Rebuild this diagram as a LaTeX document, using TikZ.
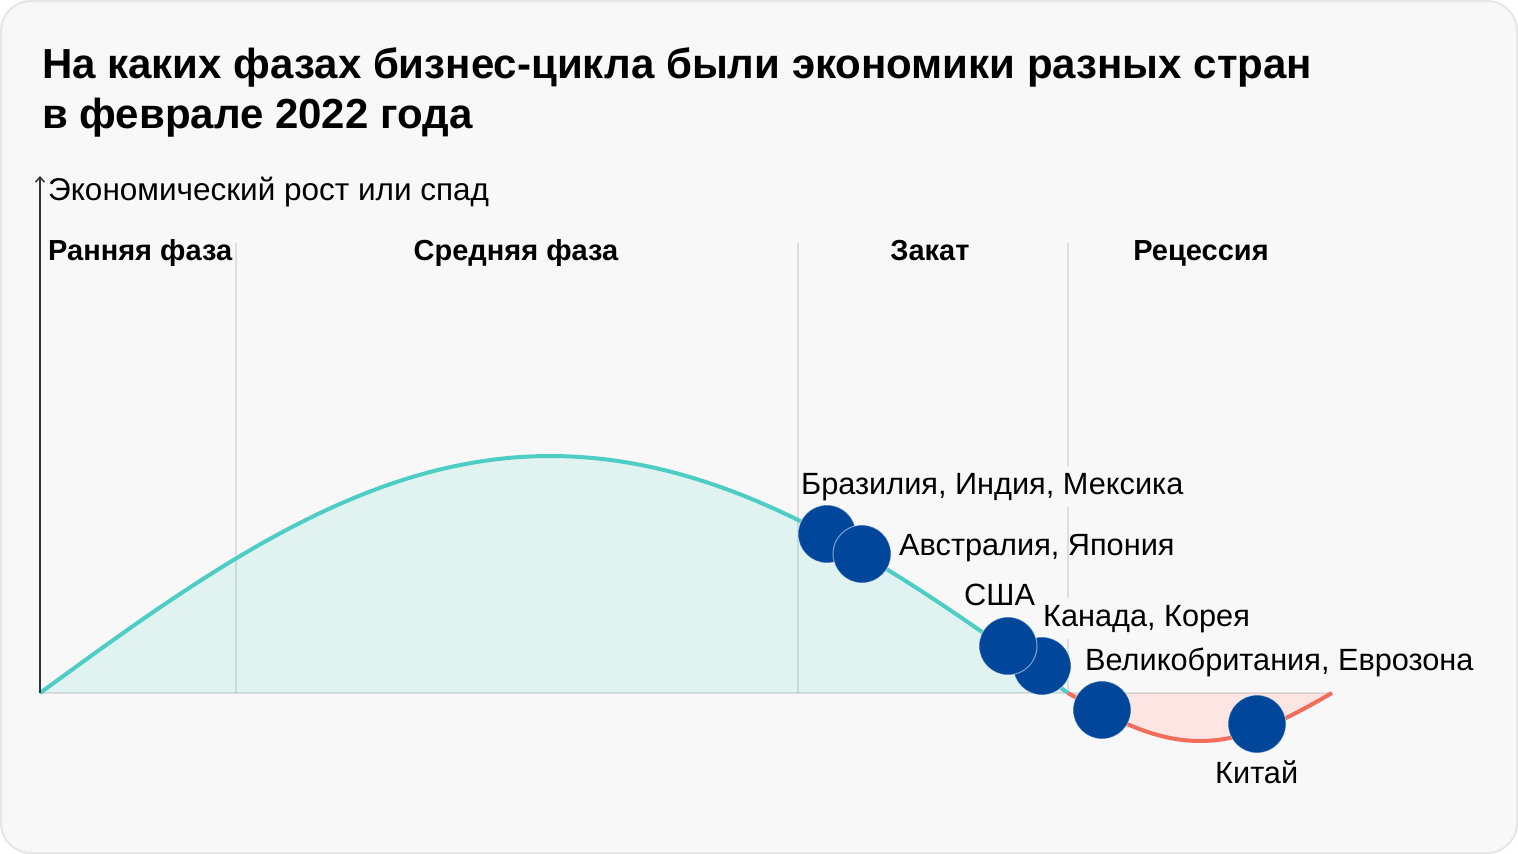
\documentclass[tikz,border=0pt]{standalone}
\usepackage{fontspec}
\setmainfont{Liberation Sans}
\usetikzlibrary{arrows.meta}
\definecolor{bg}{HTML}{F8F8F8}
\definecolor{framec}{HTML}{E6E6E6}
\definecolor{curveteal}{HTML}{4ECDC4}
\definecolor{tealfill}{HTML}{E0F3F0}
\definecolor{curvecoral}{HTML}{F26B5B}
\definecolor{pinkfill}{HTML}{FDE5E3}
\definecolor{dotblue}{HTML}{00469A}
\definecolor{axisc}{HTML}{333333}
\tikzset{
  titletext/.style={anchor=base west, inner sep=0pt, font=\fontsize{42}{50}\selectfont\bfseries},
  phasetext/.style={anchor=base, inner sep=0pt, font=\fontsize{29}{34}\selectfont\bfseries},
  axistext/.style={anchor=base west, inner sep=0pt, font=\fontsize{31.5}{36}\selectfont},
  countrytext/.style={anchor=base west, inner sep=0pt, font=\fontsize{30.7}{36}\selectfont},
  maskedtext/.style={countrytext, fill=bg, inner xsep=2pt, inner ysep=7pt},
  divider/.style={draw=black, draw opacity=0.1, line width=2pt},
  dot/.style={circle, minimum size=58pt, inner sep=0pt, fill=dotblue, draw=white, draw opacity=0.5, line width=1pt},
}
\begin{document}
\begin{tikzpicture}[x=1pt,y=-1pt]
\useasboundingbox (0,0) rectangle (1518,854);
\fill[white] (0,0) rectangle (1518,854);
\draw[fill=bg, draw=framec, line width=2pt, rounded corners=30pt] (1,1) rectangle (1517,853);

% fills
\fill[tealfill] plot[domain=40:550, samples=80] (\x, {693-237*sin(0.17647*(\x-40))})
  -- plot[domain=550:1068, samples=80] (\x, {693-237*cos(0.17375*(\x-550))}) -- cycle;
\fill[pinkfill] plot[domain=1068:1332, samples=60] (\x, {693+48*sin(0.68182*(\x-1068))}) -- cycle;

% baseline and dividers
\coordinate (origin) at (40,693);
\coordinate (baseend) at (1332,693);
\draw[divider, line width=1.5pt] (origin) -- (baseend);
\foreach \xx in {236,798,1068} \draw[divider] (\xx,243) -- (\xx,693);

% curves
\draw[curveteal, line width=4pt] plot[domain=40:550, samples=80] (\x, {693-237*sin(0.17647*(\x-40))})
  -- plot[domain=550:1068, samples=80] (\x, {693-237*cos(0.17375*(\x-550))});
\draw[curvecoral, line width=4pt] plot[domain=1068:1332, samples=60] (\x, {693+48*sin(0.68182*(\x-1068))});

% axis
\coordinate (axistop) at (40,176);
\draw[axisc, line width=2pt, -{Straight Barb[length=5pt,width=9pt,line width=1.5pt]}] (origin) -- (axistop);

% texts
\node[titletext] (t1) at (42,78) {На каких фазах бизнес-цикла были экономики разных стран};
\node[titletext] (t2) at (42,128) {в феврале 2022 года};
\node[axistext] (ax) at (48,200) {Экономический рост или спад};
\node[phasetext, anchor=base west] (p1) at (48,260) {Ранняя фаза};
\node[phasetext] (p2) at (516,260) {Средняя фаза};
\node[phasetext] (p3) at (930,260) {Закат};
\node[phasetext] (p4) at (1201,260) {Рецессия};

\node[maskedtext] (lbr) at (799,494) {Бразилия, Индия, Мексика};
\node[countrytext] (lau) at (899,555) {Австралия, Япония};
\node[countrytext] (lus) at (964,605) {США};
\node[maskedtext] (lca) at (1041,626) {Канада, Корея};
\node[countrytext] (luk) at (1085,670) {Великобритания, Еврозона};
\node[countrytext] (lcn) at (1215,783) {Китай};

% dots
\node[dot] (br) at (827,534) {};
\node[dot] (au) at (862,554) {};
\node[dot] (ca) at (1042,666) {};
\node[dot] (us) at (1008,646) {};
\node[dot] (uk) at (1102,710) {};
\node[dot] (cn) at (1257,724) {};
\end{tikzpicture}
\end{document}
